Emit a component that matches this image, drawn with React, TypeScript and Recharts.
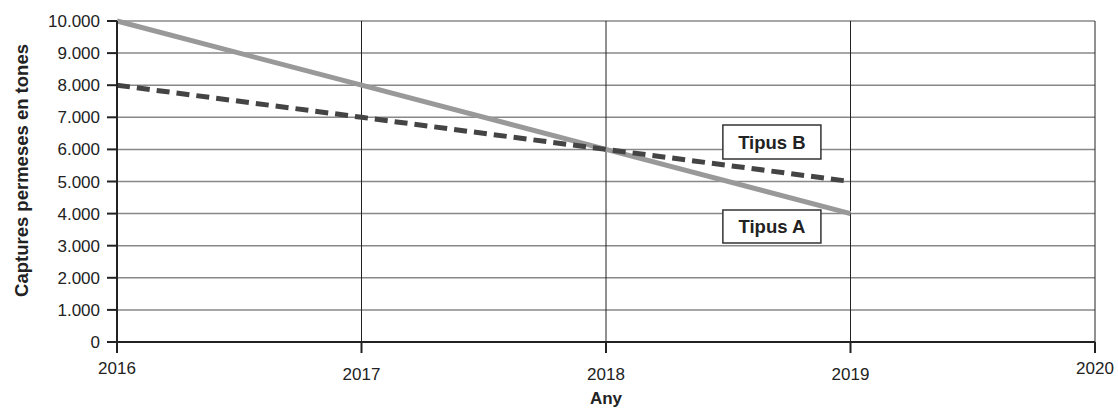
import React from "react";
import {
  LineChart,
  Line,
  XAxis,
  YAxis,
  CartesianGrid,
  ReferenceArea,
} from "recharts";

const years = [2016, 2017, 2018, 2019];
const tipusA = [10000, 8000, 6000, 4000];
const tipusB = [8000, 7000, 6000, 5000];
const xTicks = [2016, 2017, 2018, 2019, 2020];
const yTicks = [0, 1000, 2000, 3000, 4000, 5000, 6000, 7000, 8000, 9000, 10000];

const FONT = '"Liberation Sans", Arial, Helvetica, sans-serif';

// thousands with a dot, like "10.000"
function fmt(v: number): string {
  return String(v).replace(/\B(?=(\d{3})+(?!\d))/g, ".");
}

const data = years.map((year, i) => ({ year, A: tipusA[i], B: tipusB[i] }));

const XTick = (props: any) => {
  const { x, y, payload } = props;
  const edge = payload.value === 2016 || payload.value === 2020;
  return (
    <text
      x={x}
      y={y + (edge ? 21 : 27)}
      textAnchor="middle"
      fill="#222"
      fontSize={17}
      fontFamily={FONT}
    >
      {payload.value}
    </text>
  );
};

const boxLabel = (text: string) => ({
  value: text,
  position: "center" as const,
  fill: "#222",
  fontSize: 18.5,
  fontWeight: 700,
  fontFamily: FONT,
});

export default function App() {
  return (
    <div style={{ position: "absolute", left: 0, top: 0, background: "#fff" }}>
      <LineChart
        width={1118}
        height={410}
        data={data}
        margin={{ top: 21, right: 23, bottom: 28, left: 0 }}
      >
        <CartesianGrid vertical={false} stroke="#888" strokeWidth={1.5} />
        <CartesianGrid horizontal={false} stroke="#222" strokeWidth={1} />
        <XAxis
          dataKey="year"
          type="number"
          domain={[2016, 2020]}
          ticks={xTicks}
          height={40}
          tickSize={11}
          tickMargin={0}
          axisLine={{ stroke: "#222", strokeWidth: 2 }}
          tickLine={{ stroke: "#222", strokeWidth: 2 }}
          tick={<XTick />}
          label={{
            content: (p: any) => {
              const vb = p.viewBox;
              return (
                <text
                  x={vb.x + vb.width / 2}
                  y={vb.y + 62}
                  textAnchor="middle"
                  fill="#222"
                  fontSize={17}
                  fontWeight={700}
                  fontFamily={FONT}
                >
                  Any
                </text>
              );
            },
          }}
        />
        <YAxis
          type="number"
          domain={[0, 10000]}
          ticks={yTicks}
          width={117}
          tickSize={10}
          tickMargin={7}
          tickFormatter={fmt}
          interval={0}
          axisLine={{ stroke: "#222", strokeWidth: 2 }}
          tickLine={{ stroke: "#222", strokeWidth: 2 }}
          tick={{ fill: "#222", fontSize: 17, fontFamily: FONT }}
          label={{
            content: (p: any) => {
              const vb = p.viewBox;
              const cx = 21;
              const cy = vb.y + vb.height / 2 - 11;
              return (
                <text
                  x={cx}
                  y={cy}
                  transform={`rotate(-90 ${cx} ${cy})`}
                  textAnchor="middle"
                  dominantBaseline="central"
                  fill="#222"
                  fontSize={18.5}
                  fontWeight={700}
                  fontFamily={FONT}
                >
                  Captures permeses en tones
                </text>
              );
            },
          }}
        />
        <ReferenceArea
          x1={2018.478}
          x2={2018.879}
          y1={5700}
          y2={6760}
          fill="#fff"
          fillOpacity={1}
          stroke="#333"
          strokeWidth={1.5}
          label={boxLabel("Tipus B")}
        />
        <ReferenceArea
          x1={2018.478}
          x2={2018.879}
          y1={3084}
          y2={4112}
          fill="#fff"
          fillOpacity={1}
          stroke="#333"
          strokeWidth={1.5}
          label={boxLabel("Tipus A")}
        />
        <Line
          dataKey="A"
          type="linear"
          stroke="#999"
          strokeWidth={5}
          dot={false}
          isAnimationActive={false}
        />
        <Line
          dataKey="B"
          type="linear"
          stroke="#444"
          strokeWidth={5}
          strokeDasharray="13 7"
          dot={false}
          isAnimationActive={false}
        />
      </LineChart>
    </div>
  );
}
